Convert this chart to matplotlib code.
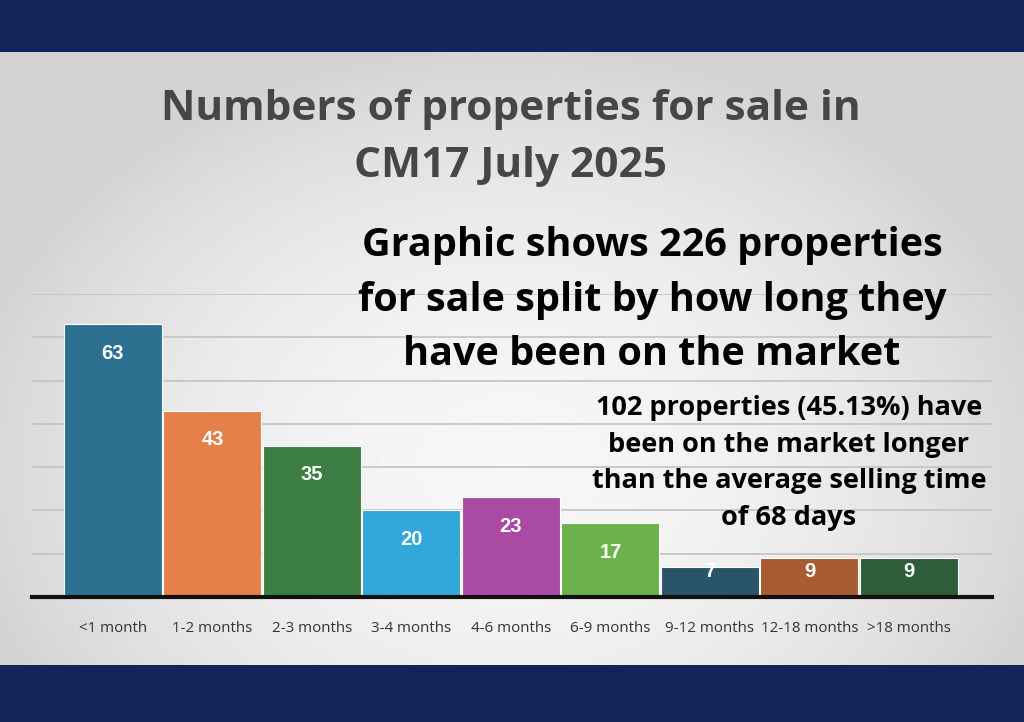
import numpy as np
import matplotlib.pyplot as plt

# ---------------------------------------------------------
# Data
# ---------------------------------------------------------
categories = ["<1 month", "1-2 months", "2-3 months", "3-4 months", "4-6 months",
              "6-9 months", "9-12 months", "12-18 months", ">18 months"]
counts = [63, 43, 35, 20, 23, 17, 7, 9, 9]
bar_colors = ["#2e7090", "#e5804a", "#3b7d43", "#31a7da", "#a94aa3",
              "#6bb24d", "#2a5469", "#a85c30", "#2e5d39"]

title_lines = "Numbers of properties for sale in\nCM17 July 2025"
subtitle = "Graphic shows 226 properties\nfor sale split by how long they\nhave been on the market"
note = "102 properties (45.13%) have\nbeen on the market longer\nthan the average selling time\nof 68 days"

NAVY = "#13245a"

fig = plt.figure(figsize=(10.24, 7.22), dpi=100)
fig.patch.set_facecolor(NAVY)

# grey gradient panel
bg = fig.add_axes([0, 57 / 722, 1, (665 - 52) / 722])
gx = np.linspace(-1, 1, 400)
gy = np.linspace(-1, 1, 300)
X, Y = np.meshgrid(gx, gy)
shade = 0.965 - 0.14 * np.clip((X / 1.1) ** 2 + ((Y - 0.35) / 1.4) ** 2, 0, 1)
bg.imshow(shade, cmap="gray", vmin=0, vmax=1, aspect="auto", extent=(0, 1, 0, 1))
bg.set_axis_off()

# ---------------------------------------------------------
# Bar chart
# ---------------------------------------------------------
ax = fig.add_axes([32 / 1024, 1 - 597 / 722, 960 / 1024, (597 - 294) / 722])
ax.patch.set_alpha(0)
x = np.arange(len(categories))
ax.bar(x, counts, width=0.985, color=bar_colors, edgecolor="white", linewidth=0.8, zorder=2)
ax.set_xlim(-0.814, 8.835)
ax.set_ylim(0, 70)
ax.set_yticks(np.arange(10, 71, 10))
ax.yaxis.grid(True, color="#c2c2c2", linewidth=1.2, zorder=0)
ax.set_axisbelow(True)
ax.tick_params(axis="y", left=False, labelleft=False)
ax.tick_params(axis="x", length=0, pad=17)
ax.set_xticks(x)
ax.set_xticklabels(categories, fontsize=10.9, color="#333333", family="Open Sans")
for s in ["top", "right", "left"]:
    ax.spines[s].set_visible(False)
ax.spines["bottom"].set_linewidth(3)
ax.spines["bottom"].set_color("#111111")

for xi, v in zip(x, counts):
    ax.text(xi, max(v - 6.7, 6), str(v), ha="center", va="center", color="white",
            fontsize=14.5, fontweight="bold", family="Liberation Sans", zorder=3)

# ---------------------------------------------------------
# Texts
# ---------------------------------------------------------
fig.text(511 / 1024, 1 - 138 / 722, title_lines, ha="center", va="center",
         fontsize=30.5, fontweight="bold", color="#464646", family="Open Sans", linespacing=1.5)
fig.text(652 / 1024, 1 - 300 / 722, subtitle, ha="center", va="center",
         fontsize=28.5, fontweight="bold", color="black", family="Open Sans", linespacing=1.52)
fig.text(789 / 1024, 1 - 463 / 722, note, ha="center", va="center",
         fontsize=19.5, fontweight="bold", color="black", family="Open Sans", linespacing=1.53)

fig.savefig("out.png", dpi=100, facecolor=fig.get_facecolor())
